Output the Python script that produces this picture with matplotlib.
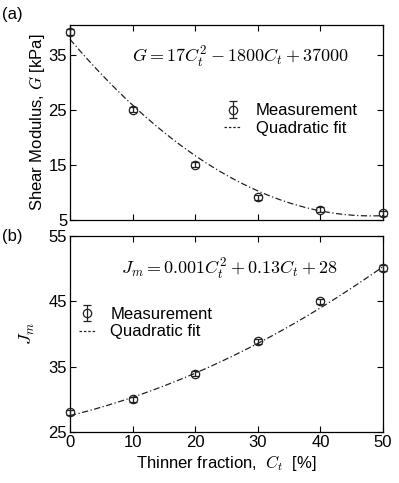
import numpy as np
import matplotlib.pyplot as plt
from matplotlib.lines import Line2D

plt.rcParams['font.family'] = ['Liberation Sans', 'DejaVu Sans']
plt.rcParams['mathtext.fontset'] = 'cm'

# thinner fraction [%]
ct = [0, 10, 20, 30, 40, 50]

# shear modulus [kPa] and error
G = [39.2, 25.1, 15.1, 9.1, 6.9, 6.2]
G_err = [0.5, 0.4, 0.4, 0.4, 0.4, 0.4]
# fit coefficients (c2, c1, c0)
G_fit = [0.0139, -1.337, 37.9]

# Jm and error
Jm = [28.0, 30.0, 33.9, 38.9, 45.0, 50.1]
Jm_err = [0.4, 0.4, 0.4, 0.4, 0.4, 0.4]
Jm_fit = [0.004367, 0.2377, 27.5]

fig = plt.figure(figsize=(3.99, 4.83), dpi=100)
ax1 = fig.add_axes([0.1754, 0.5445, 0.7845, 0.4037])
ax2 = fig.add_axes([0.1754, 0.1056, 0.7845, 0.4058])

xs = np.linspace(0, 50, 200)
fitstyle = (0, (5, 2, 1, 2))

handles = {}
for ax, y, yerr, coef in [(ax1, G, G_err, G_fit), (ax2, Jm, Jm_err, Jm_fit)]:
    eb = ax.errorbar(ct, y, yerr=yerr, fmt='o', mfc='none', mec='#222222', ecolor='#222222',
                     ms=6, mew=0.9, elinewidth=0.9, capsize=3, capthick=0.9,
                     clip_on=False, zorder=3)
    ax.plot(xs, np.polyval(coef, xs), ls=fitstyle, color='#222222', lw=0.9,
            clip_on=False)
    handles[ax] = eb
    ax.set_xlim(0, 50)
    ax.set_xticks([0, 10, 20, 30, 40, 50])
    ax.tick_params(direction='in', top=True, right=True, length=4, width=0.8,
                   labelsize=12, pad=2)
    for s in ax.spines.values():
        s.set_linewidth(0.9)

fit_proxy = Line2D([], [], color='#222222', lw=0.9, ls=(0, (2, 1.5)))

# panel (a)
ax1.set_ylim(5, 40.5)
ax1.set_yticks([5, 15, 25, 35])
ax1.tick_params(labelbottom=False)
ax1.set_ylabel('Shear Modulus, $G$ [kPa]', fontsize=12, labelpad=1)
ax1.text(0.545, 0.835, r'$G = 17C_t^2 - 1800C_t + 37000$', transform=ax1.transAxes,
         ha='center', va='center', fontsize=13)
ax1.legend([handles[ax1], fit_proxy], ['Measurement', 'Quadratic fit'],
           loc='center left', bbox_to_anchor=(0.445, 0.515), frameon=False,
           fontsize=12, handlelength=1.0, handletextpad=0.9, labelspacing=0.15)

# panel (b)
ax2.set_ylim(25, 55)
ax2.set_yticks([25, 35, 45, 55])
ax2.set_ylabel('$J_m$', fontsize=13, labelpad=8)
ax2.set_xlabel(r'Thinner fraction,  $C_t$  [%]', fontsize=12, labelpad=2)
ax2.text(0.508, 0.827, r'$J_m = 0.001C_t^2 + 0.13C_t + 28$', transform=ax2.transAxes,
         ha='center', va='center', fontsize=13)
ax2.legend([handles[ax2], fit_proxy], ['Measurement', 'Quadratic fit'],
           loc='center left', bbox_to_anchor=(-0.02, 0.555), frameon=False,
           fontsize=12, handlelength=1.0, handletextpad=0.9, labelspacing=0.15)

fig.text(0.005, 0.97, '(a)', fontsize=12, va='center')
fig.text(0.005, 0.51, '(b)', fontsize=12, va='center')

fig.savefig('out.png', dpi=100)
